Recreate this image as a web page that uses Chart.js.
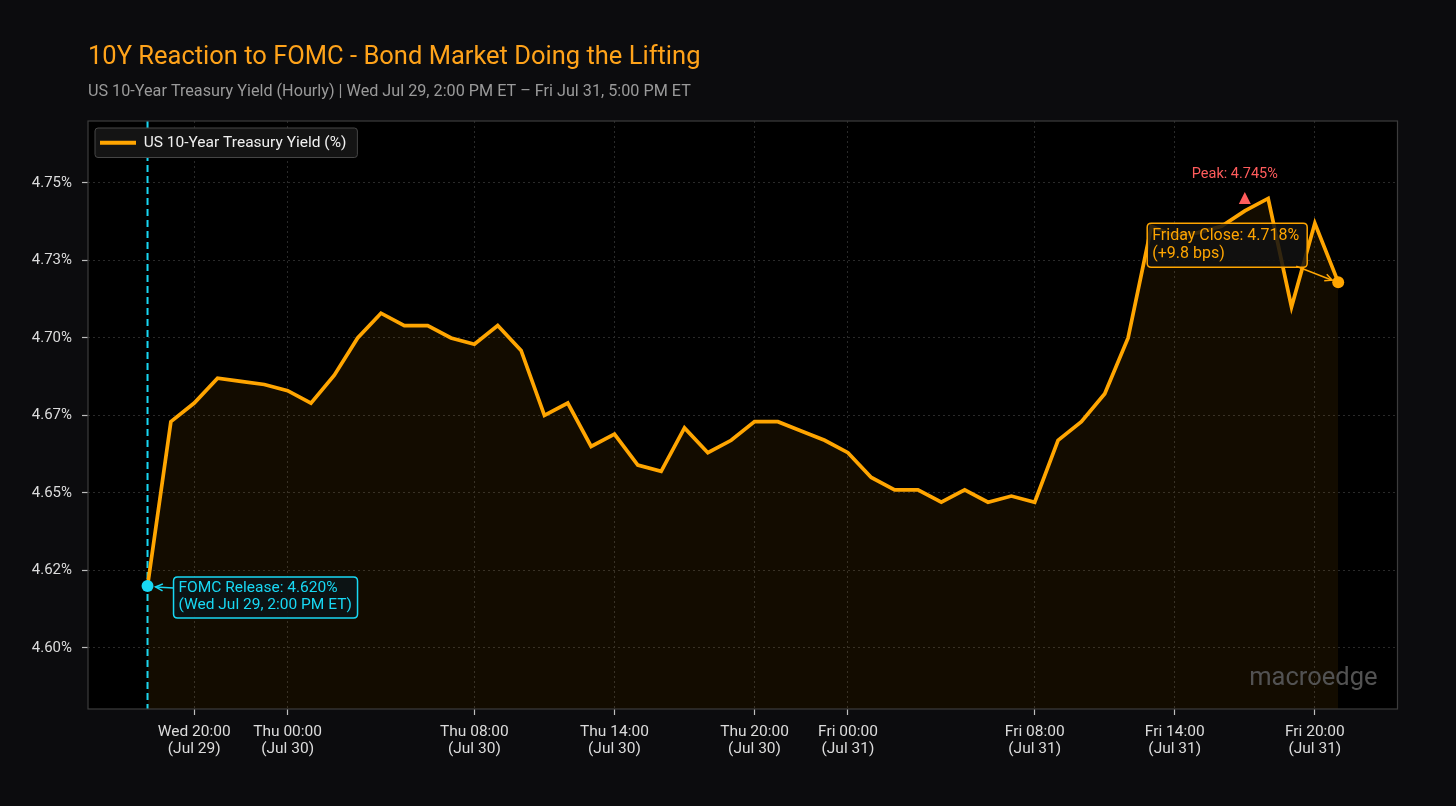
<!DOCTYPE html>
<html>
<head>
<meta charset="utf-8">
<script src="https://cdn.jsdelivr.net/npm/chart.js@4.4.1/dist/chart.umd.min.js"></script>
<style>
  html, body { margin: 0; padding: 0; background: #0c0c0e; }
  canvas { display: block; }
</style>
</head>
<body>
<canvas id="chart" width="1456" height="806"></canvas>
<script>
// ---------------- DATA ----------------
const titleText = "10Y Reaction to FOMC - Bond Market Doing the Lifting";
const subtitleText = "US 10-Year Treasury Yield (Hourly) | Wed Jul 29, 2:00 PM ET \u2013 Fri Jul 31, 5:00 PM ET";
const seriesName = "US 10-Year Treasury Yield (%)";

// hourly timestamps (axis time), Wed 18:00 -> Fri 21:00
const hourLabels = [
  "Wed 18:00","Wed 19:00","Wed 20:00","Wed 21:00","Wed 22:00","Wed 23:00",
  "Thu 00:00","Thu 01:00","Thu 02:00","Thu 03:00","Thu 04:00","Thu 05:00",
  "Thu 06:00","Thu 07:00","Thu 08:00","Thu 09:00","Thu 10:00","Thu 11:00",
  "Thu 12:00","Thu 13:00","Thu 14:00","Thu 15:00","Thu 16:00","Thu 17:00",
  "Thu 18:00","Thu 19:00","Thu 20:00","Thu 21:00","Thu 22:00","Thu 23:00",
  "Fri 00:00","Fri 01:00","Fri 02:00","Fri 03:00","Fri 04:00","Fri 05:00",
  "Fri 06:00","Fri 07:00","Fri 08:00","Fri 09:00","Fri 10:00","Fri 11:00",
  "Fri 12:00","Fri 13:00","Fri 14:00","Fri 15:00","Fri 16:00","Fri 17:00",
  "Fri 18:00","Fri 19:00","Fri 20:00","Fri 21:00"
];
const yields = [
  4.620, 4.673, 4.679, 4.687, 4.686, 4.685,
  4.683, 4.679, 4.688, 4.700, 4.708, 4.704,
  4.704, 4.700, 4.698, 4.704, 4.696, 4.675,
  4.679, 4.665, 4.669, 4.659, 4.657, 4.671,
  4.663, 4.667, 4.673, 4.673, 4.670, 4.667,
  4.663, 4.655, 4.651, 4.651, 4.647, 4.651,
  4.647, 4.649, 4.647, 4.667, 4.673, 4.682,
  4.700, 4.736, 4.733, 4.734, 4.736, 4.741,
  4.745, 4.710, 4.737, 4.718
];

const xTickHours = [2, 6, 14, 20, 26, 30, 38, 44, 50];
const xTickLabels = [
  ["Wed 20:00", "(Jul 29)"], ["Thu 00:00", "(Jul 30)"], ["Thu 08:00", "(Jul 30)"],
  ["Thu 14:00", "(Jul 30)"], ["Thu 20:00", "(Jul 30)"], ["Fri 00:00", "(Jul 31)"],
  ["Fri 08:00", "(Jul 31)"], ["Fri 14:00", "(Jul 31)"], ["Fri 20:00", "(Jul 31)"]
];
const yTickValues = [4.600, 4.625, 4.650, 4.675, 4.700, 4.725, 4.750];
const yTickLabels = ["4.60%", "4.62%", "4.65%", "4.67%", "4.70%", "4.73%", "4.75%"];

const fomcIndex = 0;
const closeIndex = 51;
const peakIndex = 47;      // marker position
const peakValue = 4.745;
const fomcText = ["FOMC Release: 4.620%", "(Wed Jul 29, 2:00 PM ET)"];
const closeText = ["Friday Close: 4.718%", "(+9.8 bps)"];
const peakText = "Peak: 4.745%";
const watermark = "macroedge";

// ---------------- STYLE ----------------
const FONT = "Roboto, 'Open Sans', sans-serif";
const ORANGE = "#ffa500";
const CYAN = "#18d8f4";
const RED = "#ff5c5c";

function roundRect(ctx, x, y, w, h, r) {
  ctx.beginPath();
  ctx.moveTo(x + r, y);
  ctx.lineTo(x + w - r, y);
  ctx.quadraticCurveTo(x + w, y, x + w, y + r);
  ctx.lineTo(x + w, y + h - r);
  ctx.quadraticCurveTo(x + w, y + h, x + w - r, y + h);
  ctx.lineTo(x + r, y + h);
  ctx.quadraticCurveTo(x, y + h, x, y + h - r);
  ctx.lineTo(x, y + r);
  ctx.quadraticCurveTo(x, y, x + r, y);
  ctx.closePath();
}

function arrow(ctx, x1, y1, x2, y2, color) {
  ctx.save();
  ctx.strokeStyle = color;
  ctx.lineWidth = 1.5;
  ctx.beginPath();
  ctx.moveTo(x1, y1);
  ctx.lineTo(x2, y2);
  ctx.stroke();
  const ang = Math.atan2(y2 - y1, x2 - x1);
  const L = 8, W = 0.45;
  ctx.beginPath();
  ctx.moveTo(x2 - L * Math.cos(ang - W), y2 - L * Math.sin(ang - W));
  ctx.lineTo(x2, y2);
  ctx.lineTo(x2 - L * Math.cos(ang + W), y2 - L * Math.sin(ang + W));
  ctx.stroke();
  ctx.restore();
}

const deco = {
  id: 'deco',
  afterUpdate(chart) {
    // place legend inside the plot, top-left
    const lg = chart.legend;
    if (!lg || !lg.legendHitBoxes || !lg.legendHitBoxes.length) return;
    const hb = lg.legendHitBoxes[0];
    const dx = chart.chartArea.left + 12 - hb.left;
    const dy = chart.chartArea.top + 14 - hb.top;
    lg.left += dx; lg.right += dx; lg.top += dy; lg.bottom += dy;
    lg.legendHitBoxes.forEach(h => { h.left += dx; h.top += dy; });
  },
  beforeDraw(chart) {
    const { ctx, chartArea: a } = chart;
    ctx.save();
    ctx.fillStyle = '#0c0c0e';
    ctx.fillRect(0, 0, chart.width, chart.height);
    ctx.fillStyle = '#000000';
    ctx.fillRect(a.left, a.top, a.right - a.left, a.bottom - a.top);
    ctx.textBaseline = 'middle';
    ctx.textAlign = 'left';
    ctx.fillStyle = '#ffa31a';
    ctx.font = `400 25.5px ${FONT}`;
    ctx.fillText(titleText, a.left, 58);
    ctx.fillStyle = '#9a9a9a';
    ctx.font = `400 16.2px ${FONT}`;
    ctx.fillText(subtitleText, a.left, 92);
    ctx.restore();
  },
  beforeDatasetsDraw(chart) {
    const { ctx, chartArea: a, scales: { x } } = chart;
    ctx.save();
    // FOMC vertical dashed line
    const fx = x.getPixelForValue(fomcIndex);
    ctx.strokeStyle = CYAN;
    ctx.lineWidth = 2;
    ctx.setLineDash([7, 4]);
    ctx.beginPath();
    ctx.moveTo(fx, a.top);
    ctx.lineTo(fx, a.bottom);
    ctx.stroke();
    ctx.setLineDash([]);
    // legend background box, then legend on top
    const lg = chart.legend;
    if (lg && lg.legendHitBoxes && lg.legendHitBoxes.length) {
      const hb = lg.legendHitBoxes[0];
      const bx = hb.left - 5, by = hb.top - 7, bw = hb.width + 16, bh = hb.height + 14;
      roundRect(ctx, bx, by, bw, bh, 3);
      ctx.fillStyle = '#141414';
      ctx.fill();
      ctx.strokeStyle = '#464646';
      ctx.lineWidth = 1;
      ctx.stroke();
      lg.draw(a);
    }
    ctx.restore();
  },
  afterDatasetsDraw(chart) {
    const { ctx, chartArea: a, scales: { x, y } } = chart;
    ctx.save();
    // plot border
    ctx.strokeStyle = '#3c3c3c';
    ctx.lineWidth = 1.2;
    ctx.strokeRect(a.left, a.top, a.right - a.left, a.bottom - a.top);

    // watermark
    ctx.fillStyle = '#525252';
    ctx.font = `400 25.5px ${FONT}`;
    ctx.textAlign = 'right';
    ctx.textBaseline = 'middle';
    ctx.fillText(watermark, a.right - 20, a.bottom - 30);

    // FOMC annotation
    const px0 = x.getPixelForValue(fomcIndex), py0 = y.getPixelForValue(yields[fomcIndex]);
    const fbx = px0 + 26, fby = py0 - 9, fbw = 184, fbh = 41;
    roundRect(ctx, fbx, fby, fbw, fbh, 4);
    ctx.fillStyle = 'rgba(12,20,22,0.9)';
    ctx.fill();
    ctx.strokeStyle = CYAN;
    ctx.lineWidth = 1.5;
    ctx.stroke();
    arrow(ctx, fbx, py0 + 2, px0 + 8, py0 + 1, CYAN);
    ctx.fillStyle = CYAN;
    ctx.font = `400 15.5px ${FONT}`;
    ctx.textAlign = 'left';
    ctx.fillText(fomcText[0], fbx + 5, fby + 11.5);
    ctx.fillText(fomcText[1], fbx + 5, fby + 28.5);

    // Friday close annotation
    const pxc = x.getPixelForValue(closeIndex), pyc = y.getPixelForValue(yields[closeIndex]);
    const cbx = pxc - 191, cby = pyc - 59, cbw = 160, cbh = 44;
    roundRect(ctx, cbx, cby, cbw, cbh, 4);
    ctx.fillStyle = 'rgba(18,18,18,0.86)';
    ctx.fill();
    ctx.strokeStyle = ORANGE;
    ctx.lineWidth = 1.5;
    ctx.stroke();
    arrow(ctx, cbx + 149, cby + 43, pxc - 6, pyc - 2, ORANGE);
    ctx.fillStyle = ORANGE;
    ctx.font = `400 16px ${FONT}`;
    ctx.fillText(closeText[0], cbx + 5, cby + 12.5);
    ctx.fillText(closeText[1], cbx + 5, cby + 30.5);

    // Peak marker
    const ppx = x.getPixelForValue(peakIndex), ppy = y.getPixelForValue(peakValue);
    ctx.fillStyle = RED;
    ctx.beginPath();
    ctx.moveTo(ppx, ppy - 6.5);
    ctx.lineTo(ppx + 6, ppy + 5.5);
    ctx.lineTo(ppx - 6, ppy + 5.5);
    ctx.closePath();
    ctx.fill();
    ctx.font = `400 14.5px ${FONT}`;
    ctx.textAlign = 'center';
    ctx.fillText(peakText, ppx - 10, ppy - 24);
    ctx.restore();
  }
};

const pointRadii = yields.map((v, i) => (i === fomcIndex || i === closeIndex) ? 6 : 0);
const pointColors = yields.map((v, i) => i === fomcIndex ? CYAN : ORANGE);

new Chart(document.getElementById('chart'), {
  type: 'line',
  data: {
    labels: hourLabels,
    datasets: [{
      label: seriesName,
      data: yields.map((v, i) => ({ x: i, y: v })),
      borderColor: ORANGE,
      borderWidth: 3.7,
      backgroundColor: 'rgba(255,165,0,0.075)',
      fill: 'start',
      tension: 0,
      pointRadius: pointRadii,
      pointBackgroundColor: pointColors,
      pointBorderWidth: 0,
      pointHoverRadius: pointRadii
    }]
  },
  options: {
    responsive: false,
    animation: false,
    events: [],
    layout: { padding: { top: 121, right: 58.5, bottom: 37, left: 0 } },
    scales: {
      x: {
        type: 'linear',
        min: -2.55,
        max: 53.54,
        afterBuildTicks: (s) => { s.ticks = xTickHours.map(v => ({ value: v })); },
        afterFit: (s) => { s.height = 60; },
        ticks: {
          autoSkip: false,
          maxRotation: 0,
          padding: 9,
          color: '#dcdcdc',
          font: { family: FONT, size: 15.5, lineHeight: 1.1 },
          callback: (v, i) => xTickLabels[i]
        },
        grid: {
          color: '#2a2a2a',
          lineWidth: 1,
          drawTicks: true,
          tickLength: 6,
          tickColor: '#bdbdbd',
          tickWidth: 1.2
        },
        border: { display: false, dash: [2, 3] }
      },
      y: {
        min: 4.5803,
        max: 4.7700,
        afterBuildTicks: (s) => { s.ticks = yTickValues.map(v => ({ value: v })); },
        afterFit: (s) => { s.width = 88; },
        ticks: {
          padding: 10,
          color: '#dcdcdc',
          font: { family: FONT, size: 15 },
          callback: (v, i) => yTickLabels[i]
        },
        grid: {
          color: '#2a2a2a',
          lineWidth: 1,
          drawTicks: true,
          tickLength: 6,
          tickColor: '#bdbdbd',
          tickWidth: 1.2
        },
        border: { display: false, dash: [2, 3] }
      }
    },
    plugins: {
      legend: {
        position: 'chartArea',
        align: 'start',
        labels: {
          padding: 12,
          boxWidth: 36,
          boxHeight: 4,
          color: '#f0f0f0',
          font: { family: FONT, size: 15.5 },
          generateLabels: () => [{
            text: seriesName,
            fillStyle: ORANGE,
            strokeStyle: ORANGE,
            lineWidth: 0,
            fontColor: '#f0f0f0',
            hidden: false,
            datasetIndex: 0
          }]
        }
      },
      tooltip: { enabled: false },
      title: { display: false }
    }
  },
  plugins: [deco]
});
</script>
</body>
</html>
